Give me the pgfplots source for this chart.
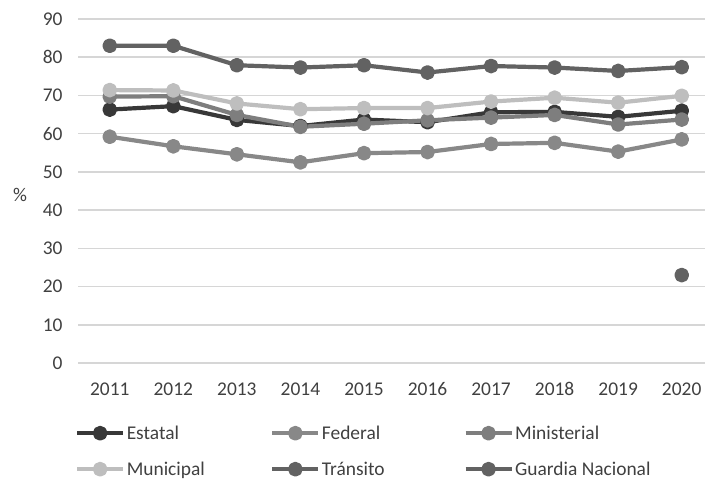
\documentclass[border=0pt]{standalone}
\usepackage{pgfplots}
\pgfplotsset{compat=1.18}
\usepackage{fontspec}
\setmainfont{Carlito}

\definecolor{cEstatal}{HTML}{383838}
\definecolor{cFederal}{HTML}{888888}
\definecolor{cMinist}{HTML}{7E7E7E}
\definecolor{cMunic}{HTML}{BEBEBE}
\definecolor{cTransito}{HTML}{626262}
\definecolor{cGrid}{HTML}{D6D6D6}
\definecolor{cText}{HTML}{404040}

\begin{document}
\begin{tikzpicture}
\useasboundingbox (0bp,0bp) rectangle (705bp,483bp);
\begin{axis}[
    at={(78bp,120bp)}, anchor=south west,
    scale only axis, width=627bp, height=344bp,
    xmin=2010.5, xmax=2020.366, ymin=0, ymax=90,
    xtick={2011,...,2020}, ytick={0,10,...,90},
    /pgf/number format/1000 sep={},
    /pgf/number format/assume math mode=true,
    axis line style={draw=none},
    major tick length=0pt,
    ymajorgrids, grid style={cGrid, line width=1.5bp},
    ticklabel style={font=\fontsize{19.5}{23}\selectfont, text=cText},
    xticklabel style={yshift=-16bp},
    yticklabel style={xshift=-12bp},
    ylabel={\%},
    ylabel style={rotate=-90, at={(axis description cs:0,0.488)}, anchor=center,
      xshift=-58bp, font=\fontsize{19.5}{23}\selectfont, text=cText},
    every axis plot/.append style={line width=4.2bp, line join=round,
      mark=*, mark size=5.3bp, mark options={solid}},
    legend columns=3,
    legend cell align=left,
    legend style={at={(axis description cs:-0.005,-0.176)}, anchor=north west,
      draw=none, fill=none, inner sep=0pt, row sep=17bp,
      font=\fontsize{19.5}{23}\selectfont, text=cText,
      nodes={inner xsep=1.5bp}},
    legend image code/.code={
      \draw[mark repeat=2, mark phase=2, #1]
        plot coordinates {(0bp,0bp) (23bp,0bp) (46bp,0bp)};},
  ]
\addplot[color=cEstatal] coordinates {
  (2011,66.3) (2012,67.2) (2013,63.6) (2014,62.0) (2015,63.7)
  (2016,63.0) (2017,65.6) (2018,65.7) (2019,64.4) (2020,66.0)
};
\addlegendentry{\makebox[142bp][l]{Estatal}}
\addplot[color=cFederal] coordinates {
  (2011,59.2) (2012,56.7) (2013,54.6) (2014,52.5) (2015,54.9)
  (2016,55.2) (2017,57.3) (2018,57.6) (2019,55.3) (2020,58.5)
};
\addlegendentry{\makebox[140bp][l]{Federal}}
\addplot[color=cMinist] coordinates {
  (2011,69.7) (2012,69.8) (2013,64.9) (2014,61.8) (2015,62.6)
  (2016,63.5) (2017,64.2) (2018,64.9) (2019,62.4) (2020,63.7)
};
\addlegendentry{Ministerial}
\addplot[color=cMunic] coordinates {
  (2011,71.4) (2012,71.3) (2013,67.9) (2014,66.4) (2015,66.7)
  (2016,66.7) (2017,68.4) (2018,69.4) (2019,68.1) (2020,69.9)
};
\addlegendentry{\makebox[142bp][l]{Municipal}}
\addplot[color=cTransito] coordinates {
  (2011,83.0) (2012,83.0) (2013,77.9) (2014,77.3) (2015,77.9)
  (2016,76.0) (2017,77.7) (2018,77.3) (2019,76.4) (2020,77.4)
};
\addlegendentry{\makebox[140bp][l]{Tránsito}}
\addplot[color=cTransito] coordinates {
  (2020,23.0)
};
\addlegendentry{Guardia Nacional}
\end{axis}
\end{tikzpicture}
\end{document}
